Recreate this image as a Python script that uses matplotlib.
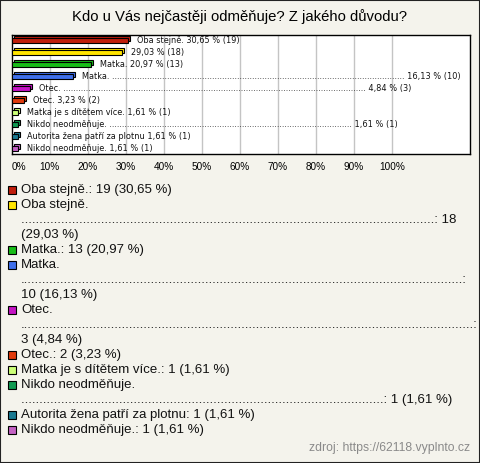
import matplotlib
matplotlib.use('Agg')
import matplotlib.pyplot as plt
import matplotlib.transforms as mtransforms
from matplotlib.patches import Rectangle

W, H = 480, 463

title = 'Kdo u Vás nejčastěji odměňuje? Z jakého důvodu?'
source = 'zdroj: https://62118.vyplnto.cz'

categories = ['Oba stejně.', 'Oba stejně.', 'Matka.', 'Matka.', 'Otec.', 'Otec.',
              'Matka je s dítětem více.', 'Nikdo neodměňuje.',
              'Autorita žena patří za plotnu', 'Nikdo neodměňuje.']
counts = [19, 18, 13, 10, 3, 2, 1, 1, 1, 1]
percents = [30.65, 29.03, 20.97, 16.13, 4.84, 3.23, 1.61, 1.61, 1.61, 1.61]
colors = ['#C01E0C', '#FFE400', '#18BC18', '#3F6FEA', '#C414C4', '#E03A0C',
          '#CCFF78', '#109A52', '#1A7A92', '#C462C4']
# how the bar labels show the name: None = hidden, 0 = plain, n = n dots
bar_dots = [0, None, 0, 117, 121, 0, 0, 97, 0, 0]
ticks = [0, 10, 20, 30, 40, 50, 60, 70, 80, 90, 100]


def pct(p):
    return '{:.2f}'.format(p).replace('.', ',')


# wrapped legend lines: (color index or None, text)
legend_lines = [
    (0, '{}: {} ({} %)'.format(categories[0], counts[0], pct(percents[0]))),
    (1, categories[1]),
    (None, '.' * 114 + ': {}'.format(counts[1])),
    (None, '({} %)'.format(pct(percents[1]))),
    (2, '{}: {} ({} %)'.format(categories[2], counts[2], pct(percents[2]))),
    (3, categories[3]),
    (None, '.' * 122 + ':'),
    (None, '{} ({} %)'.format(counts[3], pct(percents[3]))),
    (4, categories[4]),
    (None, '.' * 125 + ':'),
    (None, '{} ({} %)'.format(counts[4], pct(percents[4]))),
    (5, 'Otec.: {} ({} %)'.format(counts[5], pct(percents[5]))),
    (6, '{}: {} ({} %)'.format(categories[6], counts[6], pct(percents[6]))),
    (7, categories[7]),
    (None, '.' * 100 + ': {} ({} %)'.format(counts[7], pct(percents[7]))),
    (8, '{}: {} ({} %)'.format(categories[8], counts[8], pct(percents[8]))),
    (9, '{}: {} ({} %)'.format(categories[9], counts[9], pct(percents[9]))),
]

bg = '#F4F3EC'
fig = plt.figure(figsize=(W / 100, H / 100), dpi=100, facecolor=bg)
fig.patches.append(Rectangle((0, 0), 1, 1, transform=fig.transFigure,
                             fill=False, edgecolor='#222222', lw=1.5))

fig.text(0.5, 1 - 17 / H, title, ha='center', va='center',
         fontsize=10.7, family='Liberation Sans')

ax = fig.add_axes([11.5 / W, 1 - 154 / H, (470 - 11.5) / W, 119 / H])
ax.set_facecolor('white')
ax.set_xlim(0, 120.5)
ax.set_ylim(len(percents) - 0.5, -0.5)
for t in ticks[1:]:
    ax.axvline(t, color='#C4C4C4', lw=1, zorder=0)
for s in ax.spines.values():
    s.set_color('black')
    s.set_linewidth(1)
ax.set_yticks([])
ax.set_xticks(ticks)
ax.set_xticklabels(['{}%'.format(t) for t in ticks], fontsize=7.2,
                   family='Liberation Sans')
ax.tick_params(axis='x', length=0, pad=6)
ax.get_xticklabels()[0].set_horizontalalignment('left')

back = mtransforms.offset_copy(ax.transData, fig=fig, x=2, y=2, units='dots')
ys = list(range(len(percents)))
ax.barh(ys, percents, height=0.42, color=colors, edgecolor='black',
        lw=0.8, transform=back, zorder=2)
ax.barh(ys, percents, height=0.42, color=colors, edgecolor='black',
        lw=0.8, zorder=3)

for i, p in enumerate(percents):
    val = '{} % ({})'.format(pct(p), counts[i])
    if bar_dots[i] is None:
        txt = val
    elif bar_dots[i] == 0:
        txt = '{} {}'.format(categories[i], val)
    else:
        txt = '{} {} {}'.format(categories[i], '.' * bar_dots[i], val)
    ax.annotate(txt, xy=(p, i), xytext=(9, 0), textcoords='offset pixels',
                ha='left', va='center', fontsize=5.85, family='DejaVu Sans',
                color='#111111', zorder=4, annotation_clip=False)

y0 = 190
for k, (ci, txt) in enumerate(legend_lines):
    y = 1 - (y0 + 15 * k) / H
    if ci is not None:
        fig.patches.append(Rectangle((8 / W, y - 4 / H), 8 / W, 8 / H,
                                     transform=fig.transFigure,
                                     facecolor=colors[ci], edgecolor='black',
                                     lw=0.8))
    fig.text(21 / W, y, txt, ha='left', va='center', fontsize=9.55,
             family='Liberation Sans', color='#111111')

fig.text(470 / W, 1 - 448 / H, source, ha='right', va='center',
         fontsize=8.8, family='Liberation Sans', color='#8A8A8A')

fig.savefig('out.png', dpi=100, facecolor=bg)
